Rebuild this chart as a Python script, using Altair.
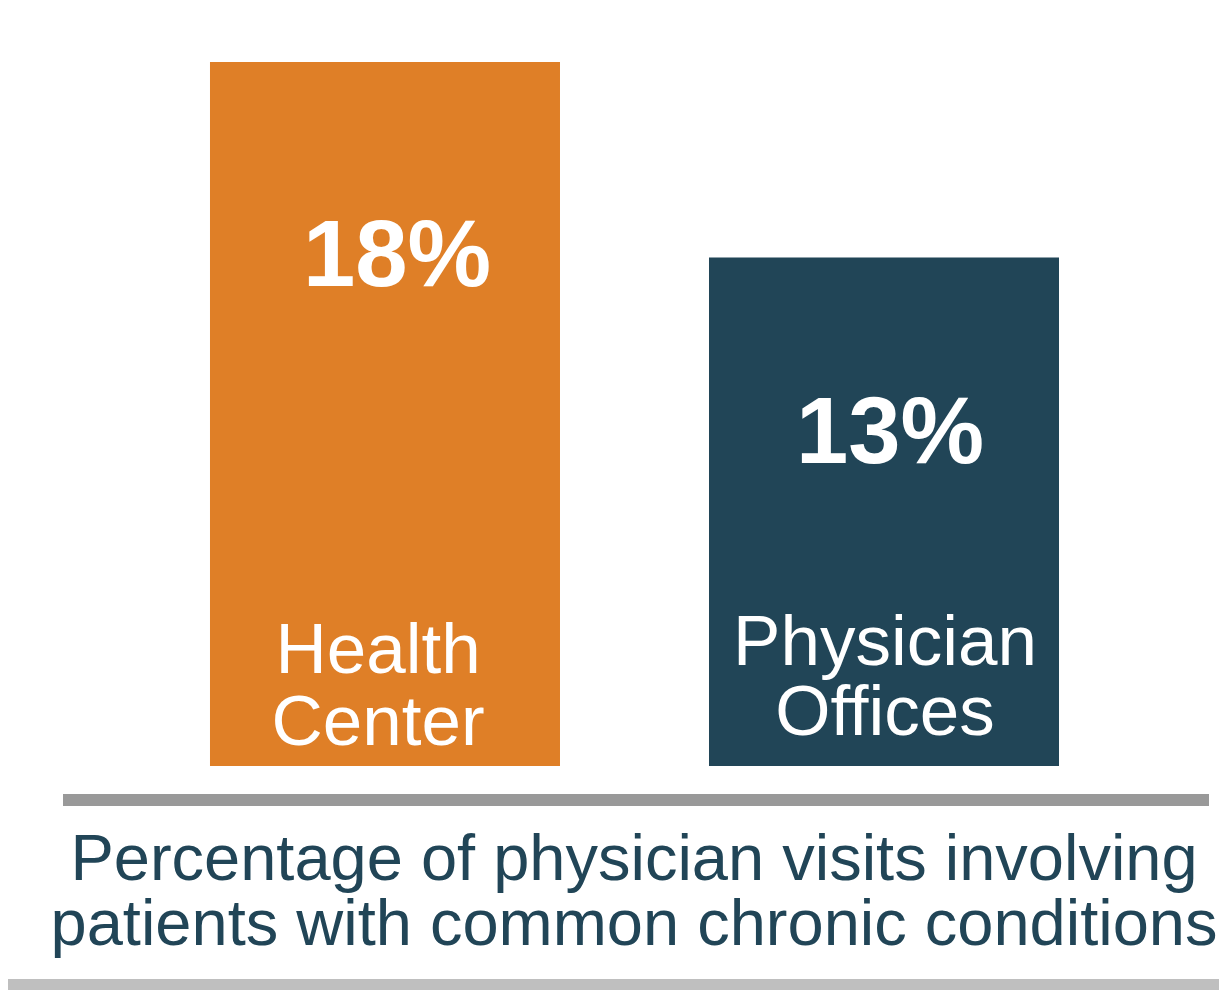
import altair as alt
import pandas as pd

# ---- data ----
categories = ["Health Center", "Physician Offices"]
label_line1 = ["Health", "Physician"]
label_line2 = ["Center", "Offices"]
values = [18, 13]
value_labels = ["18%", "13%"]
colors = ["#DF7F27", "#214557"]
subtitle_lines = ["Percentage of physician visits involving",
                  "patients with common chronic conditions"]

df = pd.DataFrame({"category": categories, "value": values,
                   "label": value_labels, "l1": label_line1, "l2": label_line2})

FONT = "Liberation Sans"
DARK = "#214557"

xenc = alt.X("category:N", sort=categories, axis=None,
             scale=alt.Scale(paddingInner=0.2986, paddingOuter=0.3627, align=0.558))
yscale = alt.Scale(domain=[-5.727, 19.381], nice=False, zero=False)
yenc = alt.Y("value:Q", axis=None, scale=yscale)
yzero = alt.Y("zero:Q", axis=None, scale=yscale)

base = alt.Chart(df).transform_calculate(zero="0")

bars = base.mark_bar().encode(
    x=xenc, y=yenc, y2="zero:Q",
    color=alt.Color("category:N", scale=alt.Scale(domain=categories, range=colors), legend=None),
)

layers = [bars]
num_dx = [12, 6]
num_dy = [224, 205]
cat_dx = [-7, 1]
cat_dy1 = [-93, -101]
cat_dy2 = [-21, -31]
for i, cat in enumerate(categories):
    sub = base.transform_filter(alt.datum.category == cat)
    layers.append(sub.mark_text(
        font=FONT, fontSize=94, fontWeight="bold", color="white",
        align="center", baseline="alphabetic", dx=num_dx[i], dy=num_dy[i],
    ).encode(x=xenc, y=yenc, text="label:N"))
    layers.append(sub.mark_text(
        font=FONT, fontSize=71, color="white", align="center",
        baseline="alphabetic", dx=cat_dx[i], dy=cat_dy1[i],
    ).encode(x=xenc, y=yzero, text="l1:N"))
    layers.append(sub.mark_text(
        font=FONT, fontSize=71, color="white", align="center",
        baseline="alphabetic", dx=cat_dx[i], dy=cat_dy2[i],
    ).encode(x=xenc, y=yzero, text="l2:N"))

rule = alt.Chart(pd.DataFrame({"k": [0]})).mark_rule(color="#999999", strokeWidth=12).encode(
    x=alt.value(55), x2=alt.value(1201), y=alt.value(792))
layers.append(rule)

sub_df = pd.DataFrame({"t": subtitle_lines, "row": [0, 1]})
for j, ypix in enumerate([872, 937]):
    layers.append(alt.Chart(sub_df).transform_filter(alt.datum.row == j).mark_text(
        font=FONT, fontSize=65, color=DARK, align="center", baseline="alphabetic",
    ).encode(x=alt.value(626), y=alt.value(ypix), text="t:N"))

band = alt.Chart(pd.DataFrame({"k": [0]})).mark_rect(color="#BFBFBF").encode(
    x=alt.value(-8), x2=alt.value(1211), y=alt.value(971), y2=alt.value(982))
layers.append(band)

chart = alt.layer(*layers).properties(
    width=1211, height=982,
    autosize=alt.AutoSizeParams(type="none"), padding=0,
).configure_view(stroke=None)

chart.save("out.html", embed_options={"renderer": "svg", "actions": False})
